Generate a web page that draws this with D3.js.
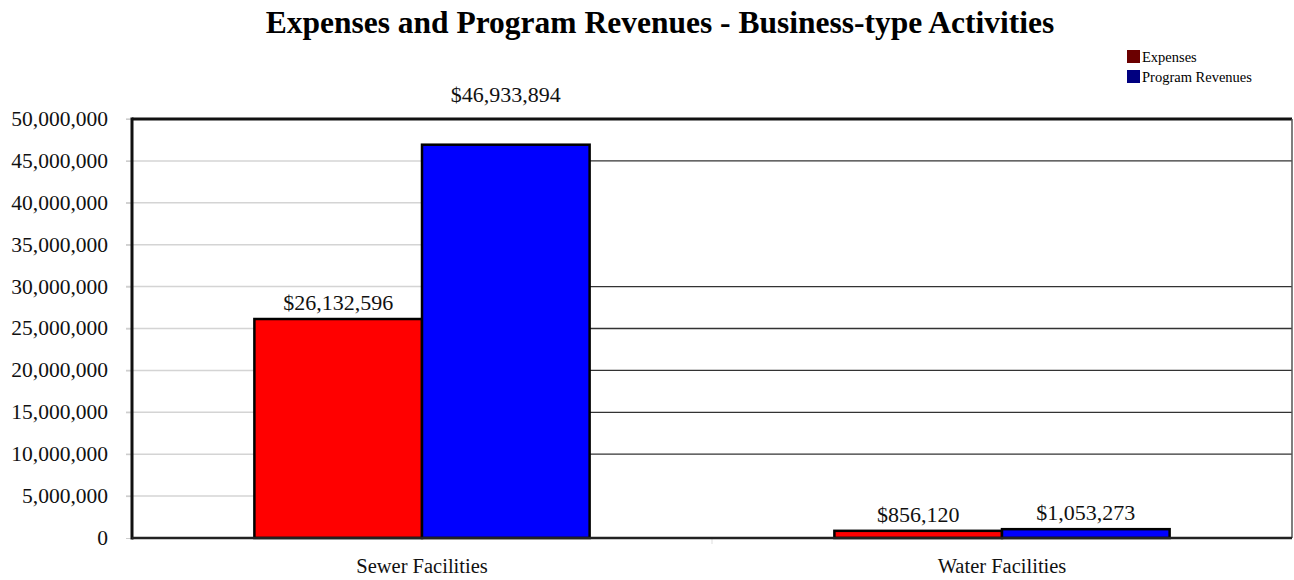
<!DOCTYPE html>
<html>
<head>
<meta charset="utf-8">
<script src="https://cdn.jsdelivr.net/npm/d3@7"></script>
<style>
  body { margin: 0; background: #fff; }
  svg text { font-family: "Liberation Serif", "Times New Roman", serif; }
</style>
</head>
<body>
<div id="chart"></div>
<script>
const categories = ['Sewer Facilities', 'Water Facilities'];
const seriesNames = ['Expenses', 'Program Revenues'];
const expenses = [26132596, 856120];
const programRevenues = [46933894, 1053273];
const yTicks = [0, 5000000, 10000000, 15000000, 20000000, 25000000, 30000000, 35000000, 40000000, 45000000, 50000000];
// gridlines that show up dark on the right side of the plot
const darkGridTicks = [10000000, 15000000, 20000000, 25000000, 30000000, 45000000];

const width = 1294;
const height = 580;
const margin = { top: 119, right: 2, bottom: 42, left: 132 };
const barColors = ['#ff0000', '#0000ff'];
const legendColors = ['#6b0000', '#000080'];

const svg = d3.select('#chart')
  .append('svg')
  .attr('width', width)
  .attr('height', height);

const x0 = d3.scaleBand().domain(categories).range([margin.left, width - margin.right]);
const x1 = d3.scaleBand().domain(seriesNames).range([0, x0.bandwidth() * 0.578]);
const groupOffset = (x0.bandwidth() - x1.range()[1]) / 2;
const y = d3.scaleLinear().domain([0, 50000000]).range([height - margin.bottom, margin.top]);

const plotLeft = margin.left;
const plotRight = width - margin.right;
const splitX = x0(categories[0]) + groupOffset + x1.range()[1];

// light gridlines
svg.append('g')
  .selectAll('line')
  .data(yTicks.slice(1))
  .join('line')
  .attr('x1', plotLeft - 6)
  .attr('x2', splitX)
  .attr('y1', d => y(d))
  .attr('y2', d => y(d))
  .attr('stroke', '#d4d4d4')
  .attr('stroke-width', 1.5);

// dark gridlines on the right part
svg.append('g')
  .selectAll('line')
  .data(darkGridTicks)
  .join('line')
  .attr('x1', splitX)
  .attr('x2', plotRight)
  .attr('y1', d => y(d))
  .attr('y2', d => y(d))
  .attr('stroke', '#333')
  .attr('stroke-width', 1.3);

// y tick labels
const yAxis = svg.append('g')
  .attr('transform', `translate(${plotLeft},0)`)
  .call(d3.axisLeft(y).tickValues(yTicks).tickFormat(d3.format(',')).tickSize(6).tickPadding(18));
yAxis.select('.domain').remove();
yAxis.selectAll('.tick line').attr('stroke', '#ccc');
yAxis.selectAll('.tick text')
  .attr('font-size', 21.5)
  .attr('fill', '#111')
  .attr('dy', '0.3em')
  .style('font-family', '"Liberation Serif", serif');

// category divider tick
svg.append('line')
  .attr('x1', x0(categories[1]))
  .attr('x2', x0(categories[1]))
  .attr('y1', y(0))
  .attr('y2', y(0) + 6)
  .attr('stroke', '#ddd');

// bars
const rows = categories.map((c, i) => ({ category: c, values: [expenses[i], programRevenues[i]] }));

const groups = svg.append('g')
  .selectAll('g')
  .data(rows)
  .join('g')
  .attr('transform', d => `translate(${x0(d.category) + groupOffset},0)`);

groups.selectAll('rect')
  .data(d => d.values.map((v, j) => ({ series: seriesNames[j], value: v, j })))
  .join('rect')
  .attr('x', d => x1(d.series))
  .attr('y', d => y(d.value))
  .attr('width', x1.bandwidth())
  .attr('height', d => y(0) - y(d.value))
  .attr('fill', d => barColors[d.j])
  .attr('stroke', '#000')
  .attr('stroke-width', 2.5);

// value labels
groups.selectAll('text')
  .data(d => d.values.map((v, j) => ({ series: seriesNames[j], value: v, j })))
  .join('text')
  .attr('x', d => x1(d.series) + x1.bandwidth() / 2)
  .attr('y', d => {
    const ly = y(d.value) - 9;
    return ly - 22 < margin.top ? margin.top - 17 : ly;
  })
  .attr('text-anchor', 'middle')
  .attr('font-size', 22)
  .attr('fill', '#111')
  .text(d => '$' + d3.format(',')(d.value));

// frame
svg.append('line')
  .attr('x1', plotLeft).attr('x2', plotRight)
  .attr('y1', margin.top).attr('y2', margin.top)
  .attr('stroke', '#111').attr('stroke-width', 3);
svg.append('line')
  .attr('x1', plotRight).attr('x2', plotRight)
  .attr('y1', margin.top).attr('y2', y(0))
  .attr('stroke', '#555').attr('stroke-width', 1.5);
svg.append('line')
  .attr('x1', plotLeft).attr('x2', plotLeft)
  .attr('y1', margin.top - 1.5).attr('y2', y(0) + 1.5)
  .attr('stroke', '#111').attr('stroke-width', 3);
svg.append('line')
  .attr('x1', plotLeft).attr('x2', plotRight)
  .attr('y1', y(0)).attr('y2', y(0))
  .attr('stroke', '#222').attr('stroke-width', 2.5);

// category labels
svg.append('g')
  .selectAll('text')
  .data(categories)
  .join('text')
  .attr('x', d => x0(d) + x0.bandwidth() / 2)
  .attr('y', 573)
  .attr('text-anchor', 'middle')
  .attr('font-size', 20.5)
  .attr('fill', '#111')
  .text(d => d);

// title
svg.append('text')
  .attr('x', 660)
  .attr('y', 33)
  .attr('text-anchor', 'middle')
  .attr('font-size', 31.5)
  .attr('font-weight', 'bold')
  .attr('fill', '#000')
  .text('Expenses and Program Revenues - Business-type Activities');

// legend
const legend = svg.append('g').attr('transform', 'translate(1127,50)');
seriesNames.forEach((name, i) => {
  legend.append('rect')
    .attr('x', 0)
    .attr('y', i * 20)
    .attr('width', 13)
    .attr('height', 13)
    .attr('fill', legendColors[i]);
  legend.append('text')
    .attr('x', 15)
    .attr('y', i * 20 + 11.5)
    .attr('font-size', 14.5)
    .attr('fill', '#000')
    .text(name);
});
</script>
</body>
</html>
